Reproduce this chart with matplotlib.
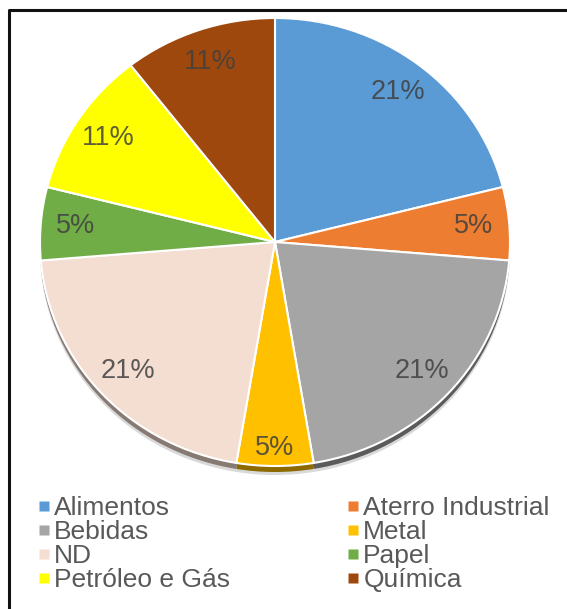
import matplotlib
matplotlib.use('Agg')
import numpy as np
from matplotlib import pyplot as plt
from matplotlib.lines import Line2D
from matplotlib.colors import to_rgb

plt.rcParams['font.family'] = ['Liberation Sans', 'DejaVu Sans']

categories = ['Alimentos', 'Aterro Industrial', 'Bebidas', 'Metal',
              'ND', 'Papel', 'Petróleo e Gás', 'Química']
counts = [4, 1, 4, 1, 4, 1, 2, 2]
colors = ['#5B9BD5', '#ED7D31', '#A5A5A5', '#FFC000',
          '#F4DDD1', '#70AD47', '#FFFF00', '#9E480E']

W, H = 567, 609
fig = plt.figure(figsize=(W / 100, H / 100), dpi=100)

# background axes in pixel coords for the frame
bg = fig.add_axes([0, 0, 1, 1])
bg.set_xlim(0, W)
bg.set_ylim(H, 0)
bg.axis('off')
bg.plot([9, 9, W], [H, 10, 10], color='#111111', lw=2.2, solid_capstyle='butt')

# pie bounding box (pixels, top-down)
px0, px1, py0, py1 = 40, 510, 18, 466

def pie_axes(dy):
    a = fig.add_axes([px0 / W, (H - py1 - dy) / H, (px1 - px0) / W, (py1 - py0) / H])
    return a

# soft shadow / depth
sh = pie_axes(9)
sh.pie([1], colors=['#D9D9D9'], radius=1.0)
sh.set_aspect('auto'); sh.set_xlim(-1, 1); sh.set_ylim(-1, 1); sh.axis('off')

dark = [tuple(c * 0.55 for c in to_rgb(col)) for col in colors]
depth = pie_axes(6)
depth.pie(counts, colors=dark, startangle=90, counterclock=False,
          wedgeprops=dict(edgecolor='none'))
depth.set_aspect('auto'); depth.set_xlim(-1, 1); depth.set_ylim(-1, 1); depth.axis('off')

ax = pie_axes(0)
wedges, texts, autotexts = ax.pie(counts, colors=colors, startangle=90, counterclock=False,
                                  autopct='%.0f%%', pctdistance=0.85,
                                  wedgeprops=dict(edgecolor='white', linewidth=1.5),
                                  textprops=dict(fontsize=19.5, color='#404040'))
ax.set_aspect('auto'); ax.set_xlim(-1, 1); ax.set_ylim(-1, 1); ax.axis('off')
# Metal label sits lower, near the rim
x, y = autotexts[3].get_position()
autotexts[3].set_position((x * 0.92 / 0.85, y * 0.92 / 0.85))
for t in autotexts:
    t.set_alpha(0.85)

# legend, filled row by row
order = [0, 2, 4, 6, 1, 3, 5, 7]
handles = [Line2D([], [], ls='none', marker='s', markersize=6.5,
                  markerfacecolor=colors[i], markeredgecolor='none') for i in order]
labels = [categories[i] for i in order]
leg = fig.legend(handles, labels, ncol=2, loc='upper left',
                 bbox_to_anchor=(39.5 / W, 1 - 496 / H), frameon=False,
                 fontsize=19, labelcolor='#595959', handlelength=0.35,
                 handletextpad=0.2, labelspacing=0.0, columnspacing=4.5,
                 borderaxespad=0, borderpad=0)

fig.savefig('out.png', dpi=100)
